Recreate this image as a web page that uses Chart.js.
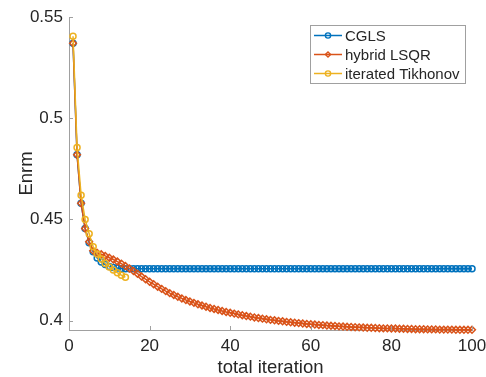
<!DOCTYPE html>
<html>
<head>
<meta charset="utf-8">
<script src="https://cdn.jsdelivr.net/npm/chart.js@4.4.1/dist/chart.umd.min.js"></script>
<style>
  html, body { margin: 0; padding: 0; background: #fff; }
  #wrap { width: 486px; height: 377px; }
</style>
</head>
<body>
<div id="wrap"><canvas id="enrmChart" width="486" height="377"></canvas></div>
<script>
// values
const seriesNames = ["CGLS", "hybrid LSQR", "iterated Tikhonov"];

const cglsEnrm = [
  0.5370, 0.4820, 0.4580, 0.4455, 0.4385, 0.4340, 0.4310, 0.4290, 0.4277, 0.4268,
  0.4263, 0.4260, 0.4258, 0.4257, 0.4257, 0.4257, 0.4257, 0.4257, 0.4257, 0.4257,
  0.4257, 0.4257, 0.4257, 0.4257, 0.4257, 0.4257, 0.4257, 0.4257, 0.4257, 0.4257,
  0.4257, 0.4257, 0.4257, 0.4257, 0.4257, 0.4257, 0.4257, 0.4257, 0.4257, 0.4257,
  0.4257, 0.4257, 0.4257, 0.4257, 0.4257, 0.4257, 0.4257, 0.4257, 0.4257, 0.4257,
  0.4257, 0.4257, 0.4257, 0.4257, 0.4257, 0.4257, 0.4257, 0.4257, 0.4257, 0.4257,
  0.4257, 0.4257, 0.4257, 0.4257, 0.4257, 0.4257, 0.4257, 0.4257, 0.4257, 0.4257,
  0.4257, 0.4257, 0.4257, 0.4257, 0.4257, 0.4257, 0.4257, 0.4257, 0.4257, 0.4257,
  0.4257, 0.4257, 0.4257, 0.4257, 0.4257, 0.4257, 0.4257, 0.4257, 0.4257, 0.4257,
  0.4257, 0.4257, 0.4257, 0.4257, 0.4257, 0.4257, 0.4257, 0.4257, 0.4257, 0.4257
];

const hybridEnrm = [
  0.5370, 0.4820, 0.4580, 0.4455, 0.4390, 0.4345, 0.4335, 0.4328, 0.4320, 0.4311,
  0.4302, 0.4292, 0.4282, 0.4270, 0.4258, 0.4245, 0.4232, 0.4218, 0.4205, 0.4192,
  0.4180, 0.4168, 0.4157, 0.4146, 0.4136, 0.4127, 0.4118, 0.4110, 0.4102, 0.4095,
  0.4088, 0.4081, 0.4075, 0.4069, 0.4063, 0.4058, 0.4053, 0.4048, 0.4043, 0.4039,
  0.4035, 0.4031, 0.4027, 0.4023, 0.4020, 0.4016, 0.4013, 0.4010, 0.4007, 0.4004,
  0.4002, 0.3999, 0.3997, 0.3994, 0.3992, 0.3990, 0.3988, 0.3986, 0.3984, 0.3982,
  0.3981, 0.3979, 0.3978, 0.3976, 0.3975, 0.3974, 0.3972, 0.3971, 0.3970, 0.3969,
  0.3968, 0.3967, 0.3966, 0.3965, 0.3965, 0.3964, 0.3963, 0.3962, 0.3962, 0.3961,
  0.3961, 0.3960, 0.3960, 0.3959, 0.3959, 0.3958, 0.3958, 0.3958, 0.3957, 0.3957,
  0.3957, 0.3956, 0.3956, 0.3956, 0.3956, 0.3955, 0.3955, 0.3955, 0.3955, 0.3955
];

const tikhonovEnrm = [
  0.5405, 0.4855, 0.4620, 0.4500, 0.4430, 0.4365, 0.4330, 0.4305, 0.4283, 0.4265,
  0.4250, 0.4237, 0.4225, 0.4215
];

const xTicks = [0, 20, 40, 60, 80, 100];
const yTicks = [0.4, 0.45, 0.5, 0.55];
const yTickLabels = ["0.4", "0.45", "0.5", "0.55"];

const colors = ["#0072BD", "#D95319", "#EDB120"];
const TEXT = "#262626";
const AXIS = "#a0a0a0";
const FONT = "'Liberation Sans', Arial, Helvetica, sans-serif";

// iteration number is the x value
function toPoints(values) {
  return values.map((v, i) => ({ x: i + 1, y: v }));
}

// small tick marks pointing into the axes, like matlab
const innerTicks = {
  id: "innerTicks",
  afterDraw(chart) {
    const { ctx, chartArea, scales } = chart;
    ctx.save();
    ctx.strokeStyle = AXIS;
    ctx.lineWidth = 1;
    ctx.beginPath();
    scales.x.ticks.forEach((t) => {
      const px = Math.round(scales.x.getPixelForValue(t.value)) + 0.5;
      ctx.moveTo(px, chartArea.bottom);
      ctx.lineTo(px, chartArea.bottom - 4);
    });
    scales.y.ticks.forEach((t) => {
      const py = Math.round(scales.y.getPixelForValue(t.value)) + 0.5;
      ctx.moveTo(chartArea.left, py);
      ctx.lineTo(chartArea.left + 4, py);
    });
    ctx.stroke();
    ctx.restore();
  },
};

// boxed legend in the top right corner
const boxLegend = {
  id: "boxLegend",
  afterDraw(chart) {
    const ctx = chart.ctx;
    const left = 310, top = 25, w = 155, h = 58;
    ctx.save();
    ctx.fillStyle = "#fff";
    ctx.fillRect(left, top, w, h);
    ctx.strokeStyle = AXIS;
    ctx.lineWidth = 1;
    ctx.strokeRect(left + 0.5, top + 0.5, w, h);
    ctx.font = "15px " + FONT;
    ctx.textBaseline = "middle";
    ctx.textAlign = "left";
    chart.data.datasets.forEach((ds, i) => {
      const cy = top + 10.5 + i * 19;
      ctx.strokeStyle = ds.borderColor;
      ctx.lineWidth = 1.5;
      ctx.beginPath();
      ctx.moveTo(left + 4, cy);
      ctx.lineTo(left + 32, cy);
      ctx.stroke();
      ctx.fillStyle = "transparent";
      ctx.lineWidth = 1.4;
      Chart.helpers.drawPoint(ctx, { pointStyle: ds.pointStyle, radius: 2.6, borderWidth: 1.4 }, left + 18, cy);
      ctx.fillStyle = TEXT;
      ctx.fillText(ds.label, left + 35, cy + 1);
    });
    ctx.restore();
  },
};

function makeDataset(i, values, style, radius) {
  return {
    label: seriesNames[i],
    data: toPoints(values),
    borderColor: colors[i],
    backgroundColor: "transparent",
    pointBorderColor: colors[i],
    pointBackgroundColor: "transparent",
    pointStyle: style,
    pointRadius: radius,
    pointBorderWidth: 1.5,
    borderWidth: 1.5,
    tension: 0,
    clip: false,
    order: 2 - i,
  };
}

const ctx = document.getElementById("enrmChart").getContext("2d");

new Chart(ctx, {
  type: "line",
  data: {
    datasets: [
      makeDataset(0, cglsEnrm, "circle", 3),
      makeDataset(1, hybridEnrm, "rectRot", 3.4),
      makeDataset(2, tikhonovEnrm, "circle", 3),
    ],
  },
  options: {
    responsive: false,
    animation: false,
    devicePixelRatio: 1,
    layout: { padding: { top: 17, right: 14, left: 0, bottom: 0 } },
    plugins: {
      legend: { display: false },
      tooltip: { enabled: false },
    },
    scales: {
      x: {
        type: "linear",
        min: 0,
        max: 100,
        afterBuildTicks(scale) {
          scale.ticks = xTicks.map((v) => ({ value: v }));
        },
        afterFit(scale) {
          scale.height = 47;
          scale.paddingLeft = 0;
          scale.paddingRight = 0;
        },
        grid: { display: false, drawTicks: false },
        border: { display: true, color: AXIS, width: 1 },
        ticks: {
          color: TEXT,
          font: { family: FONT, size: 17 },
          padding: 6,
          maxRotation: 0,
        },
        title: {
          display: true,
          text: "total iteration",
          color: TEXT,
          font: { family: FONT, size: 18.5, lineHeight: 1 },
          padding: { top: 0, bottom: 0 },
        },
      },
      y: {
        type: "linear",
        min: 0.3954,
        max: 0.55,
        afterBuildTicks(scale) {
          scale.ticks = yTicks.map((v) => ({ value: v }));
        },
        afterFit(scale) {
          scale.width = 69;
          scale.paddingTop = 0;
          scale.paddingBottom = 0;
        },
        grid: { display: false, drawTicks: false },
        border: { display: true, color: AXIS, width: 1 },
        ticks: {
          color: TEXT,
          font: { family: FONT, size: 17 },
          padding: 6,
          callback: (v, i) => yTickLabels[i],
        },
        title: {
          display: true,
          text: "Enrm",
          color: TEXT,
          font: { family: FONT, size: 18.5 },
          padding: { top: 16, bottom: 0 },
        },
      },
    },
  },
  plugins: [innerTicks, boxLegend],
});
</script>
</body>
</html>
